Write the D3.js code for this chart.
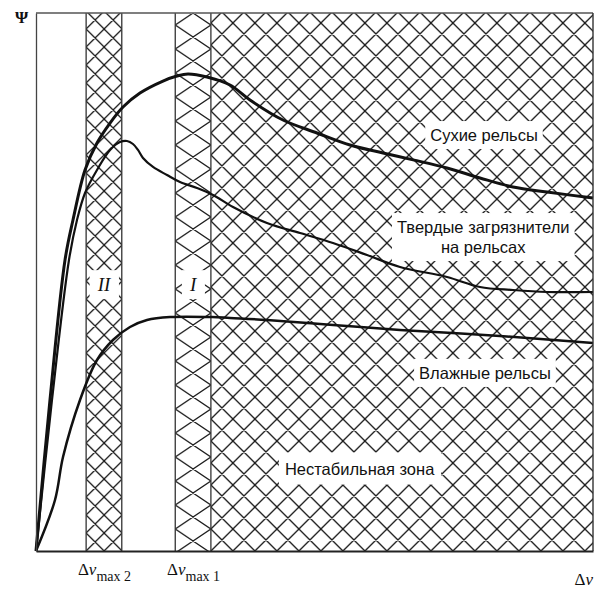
<!DOCTYPE html>
<html>
<head>
<meta charset="utf-8">
<script src="https://cdn.jsdelivr.net/npm/d3@7"></script>
<style>
  body { margin: 0; background: #fff; }
  svg { display: block; }
</style>
</head>
<body>
<svg id="chart" width="606" height="590"></svg>
<script>
// Adhesion coefficient Ψ versus slip Δv for three rail conditions.
const dryRails = [
  [0, 0], [2.51, 28.07], [5.21, 54.09], [6.64, 61.52], [8.80, 70.82], [10.95, 75.84],
  [13.29, 79.55], [15.62, 82.53], [18.67, 85.13], [22.80, 87.36], [25.31, 88.29],
  [27.29, 88.66], [30.70, 88.10], [34.83, 86.62], [38.42, 83.83], [44.34, 80.11],
  [50.45, 77.70], [56.37, 75.46], [62.30, 73.98], [67.70, 72.7], [73.79, 71.19],
  [79.71, 69.33], [85.64, 67.66], [91.74, 66.73], [100, 65.61]
];
const solidContaminants = [
  [0, 0], [2.87, 28.07], [5.92, 54.09], [7.36, 61.52], [8.80, 66.54], [10.95, 70.82],
  [13.29, 74.54], [15.08, 76.02], [16.34, 76.21], [17.41, 75.65], [18.31, 74.54],
  [19.21, 73.05], [21.01, 71.38], [23.52, 69.89], [25.85, 68.59], [28.90, 67.47],
  [31.78, 66.17], [35.37, 63.94], [41.47, 60.97], [47.40, 59.11], [53.32, 57.25],
  [59.43, 55.02], [65.35, 52.79], [73.79, 50.93], [79.71, 49.07], [85.64, 48.51],
  [91.74, 48.14], [100, 48.14]
];
const wetRails = [
  [0, 0], [3.41, 9.48], [4.85, 17.47], [7.90, 28.07], [10.95, 35.50], [13.82, 39.22],
  [16.88, 41.64], [19.93, 42.94], [24.06, 43.49], [31.60, 43.49], [34.83, 43.31],
  [41.47, 42.94], [53.32, 42.01], [65.35, 41.08], [83.30, 39.96], [100, 38.66]
];

// Slip zones: II around Δv max 2, I around Δv max 1, then the unstable zone.
const zoneII = [9.0, 15.4];
const zoneI = [25.0, 31.4];
const unstableZone = [31.4, 100];

const tickValues = [12.2, 28.2];
const tickSubscripts = ["max 2", "max 1"];
const zoneNames = ["II", "I"];
const seriesLabels = [["Сухие рельсы"], ["Твердые загрязнители", "на рельсах"], ["Влажные рельсы"]];
const unstableLabel = "Нестабильная зона";

const svg = d3.select("#chart");
const x = d3.scaleLinear().domain([0, 100]).range([36, 593]);
const y = d3.scaleLinear().domain([0, 100]).range([551, 13]);

const ink = "#111";
const hatchInk = "#1a1a1a";
const sans = "'Liberation Sans', Arial, sans-serif";
const serif = "'Liberation Serif', 'Times New Roman', serif";

// Crosshatch patterns: each tile holds an X, plus its neighbours so joins are seamless.
const defs = svg.append("defs");
function crossPattern(id, w, h, ox, oy, sw) {
  const p = defs.append("pattern")
    .attr("id", id)
    .attr("patternUnits", "userSpaceOnUse")
    .attr("width", w).attr("height", h)
    .attr("x", ox).attr("y", oy);
  let d = "";
  for (let i = -1; i <= 1; i++) {
    for (let j = -1; j <= 1; j++) {
      const a = i * w, b = j * h;
      d += `M${a},${b}L${a + w},${b + h}M${a + w},${b}L${a},${b + h}`;
    }
  }
  p.append("path").attr("d", d)
    .attr("fill", "none").attr("stroke", hatchInk).attr("stroke-width", sw);
}
const plotTop = y.range()[1], plotBottom = y.range()[0];
crossPattern("hatch-main", 22, 22, x(unstableZone[0]), plotBottom, 1.35);
crossPattern("hatch-ii", 18, 18, x(zoneII[0]), plotBottom, 1.3);
crossPattern("hatch-i", x(zoneI[1]) - x(zoneI[0]), 24, x(zoneI[0]), 505, 1.3);

const zones = [
  { range: zoneII, fill: "url(#hatch-ii)" },
  { range: zoneI, fill: "url(#hatch-i)" },
  { range: unstableZone, fill: "url(#hatch-main)" }
];
svg.append("g").selectAll("rect").data(zones).join("rect")
  .attr("x", d => x(d.range[0]))
  .attr("y", plotTop)
  .attr("width", d => x(d.range[1]) - x(d.range[0]))
  .attr("height", plotBottom - plotTop)
  .attr("fill", d => d.fill);

// Zone boundaries
const edges = [zoneII[0], zoneII[1], zoneI[0], zoneI[1]];
svg.append("g").selectAll("line").data(edges).join("line")
  .attr("x1", d => x(d)).attr("x2", d => x(d))
  .attr("y1", plotTop).attr("y2", plotBottom)
  .attr("stroke", "#333").attr("stroke-width", 1.3);

// Labels sit on white plates cut out of the hatching
const labelLayer = svg.append("g");
function plateLabel(lines, cx, cy, opts) {
  const g = labelLayer.append("g");
  const plate = g.append("rect").attr("fill", "#fff");
  const t = g.append("text")
    .attr("x", x(cx)).attr("y", y(cy))
    .attr("text-anchor", "middle")
    .attr("font-family", opts.family)
    .attr("font-size", opts.size)
    .attr("font-style", opts.style || "normal")
    .attr("fill", ink);
  lines.forEach((s, i) => {
    t.append("tspan").attr("x", x(cx)).attr("dy", i === 0 ? 0 : opts.lineGap).text(s);
  });
  const bb = t.node().getBBox();
  plate.attr("x", bb.x - opts.padX).attr("y", bb.y - opts.padY)
    .attr("width", bb.width + 2 * opts.padX).attr("height", bb.height + 2 * opts.padY);
}
const seriesAnchors = [[80.43, 76.2], [80.3, 59.1], [80.6, 32.0]];
seriesLabels.forEach((lines, i) => {
  plateLabel(lines, seriesAnchors[i][0], seriesAnchors[i][1],
    { family: sans, size: 16.5, lineGap: 20, padX: 5, padY: 5 });
});
plateLabel([unstableLabel], 58.1, 14.2, { family: sans, size: 16.5, padX: 6, padY: 7 });
zoneNames.forEach((name, i) => {
  const r = i === 0 ? zoneII : zoneI;
  plateLabel([name], (r[0] + r[1]) / 2, 48.3,
    { family: serif, size: 19, style: "italic", padX: 7, padY: 4 });
});

// Curves
const line = d3.line()
  .x(d => x(d[0])).y(d => y(d[1]))
  .curve(d3.curveCatmullRom.alpha(0.5));
const series = [
  { data: dryRails, width: 3 },
  { data: solidContaminants, width: 2.2 },
  { data: wetRails, width: 2.5 }
];
svg.append("g").selectAll("path").data(series).join("path")
  .attr("d", d => line(d.data))
  .attr("fill", "none")
  .attr("stroke", ink)
  .attr("stroke-width", d => d.width)
  .attr("stroke-linejoin", "round");

// Frame and axes
svg.append("line").attr("x1", x(0)).attr("x2", x(100)).attr("y1", plotTop).attr("y2", plotTop)
  .attr("stroke", "#555").attr("stroke-width", 1.3);
svg.append("line").attr("x1", x(100)).attr("x2", x(100)).attr("y1", plotTop).attr("y2", plotBottom)
  .attr("stroke", "#333").attr("stroke-width", 1.4);

const xAxis = svg.append("g")
  .attr("transform", `translate(0,${plotBottom})`)
  .call(d3.axisBottom(x).tickValues(tickValues).tickSize(0).tickSizeOuter(0).tickFormat(() => ""));
xAxis.select(".domain").attr("stroke", "#222").attr("stroke-width", 1.8);

const yAxis = svg.append("g")
  .attr("transform", `translate(${x(0)},0)`)
  .call(d3.axisLeft(y).tickValues([]).tickSize(0).tickSizeOuter(0));
yAxis.select(".domain").attr("stroke", "#444").attr("stroke-width", 1.3);

// Tick labels Δv with subscripts
xAxis.selectAll(".tick").each(function (d, i) {
  d3.select(this).select("text").remove();
  const t = d3.select(this).append("text")
    .attr("y", 24)
    .attr("text-anchor", "middle")
    .attr("font-family", serif)
    .attr("font-size", 17)
    .attr("fill", ink);
  t.append("tspan").text("Δ");
  t.append("tspan").attr("font-style", "italic").text("v");
  t.append("tspan").attr("font-size", 14).attr("dy", 6).text(tickSubscripts[i]);
});

// Axis titles
const xTitle = svg.append("text")
  .attr("x", x(100)).attr("y", plotBottom + 34)
  .attr("text-anchor", "end")
  .attr("font-family", serif).attr("font-size", 17).attr("fill", ink);
xTitle.append("tspan").text("Δ");
xTitle.append("tspan").attr("font-style", "italic").text("v");

svg.append("text")
  .attr("x", 15).attr("y", 23)
  .attr("font-family", serif).attr("font-size", 17).attr("font-weight", "bold")
  .attr("fill", ink).text("Ψ");
</script>
</body>
</html>
